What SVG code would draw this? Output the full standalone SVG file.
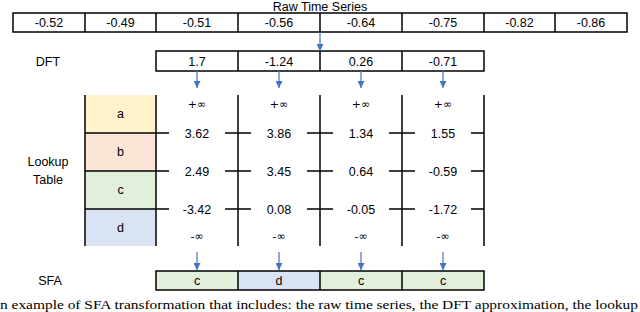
<svg xmlns="http://www.w3.org/2000/svg" width="640" height="312" viewBox="0 0 640 312">
<defs>
<marker id="ah" viewBox="0 0 10 10" refX="10" refY="5" markerWidth="7" markerHeight="7" markerUnits="userSpaceOnUse" orient="auto">
<path d="M0,0 L10,5 L0,10 z" fill="#4472C4"/>
</marker>
<style>
text{font-family:"Liberation Sans",Arial,sans-serif;font-size:12.5px;fill:#000;text-anchor:middle}
.cell{fill:#fff;stroke:#000;stroke-width:1.5}
.ln{stroke:#000;stroke-width:1.5;fill:none}
.inf{font-family:"DejaVu Sans",sans-serif;font-size:11px}
.arr{stroke:#4472C4;stroke-width:1.2;fill:none;marker-end:url(#ah)}
.cap{font-family:"Liberation Serif","Times New Roman",serif;font-size:12px;text-anchor:start}
</style>
</defs>
<g id="raw-series">
<text x="320" y="10.5">Raw Time Series</text>
<rect class="cell" x="13" y="13" width="614" height="19"/>
<path class="ln" d="M85,13V32M156,13V32M238,13V32M320,13V32M402,13V32M484,13V32M555,13V32"/>
<text x="49" y="27">-0.52</text>
<text x="120.5" y="27">-0.49</text>
<text x="197" y="27">-0.51</text>
<text x="279" y="27">-0.56</text>
<text x="361" y="27">-0.64</text>
<text x="443" y="27">-0.75</text>
<text x="519.5" y="27">-0.82</text>
<text x="591" y="27">-0.86</text>
</g>
<g id="dft">
<text x="48" y="66">DFT</text>
<rect class="cell" x="156" y="51" width="328" height="20"/>
<path class="ln" d="M238,51V71M320,51V71M402,51V71"/>
<text x="197" y="65.5">1.7</text>
<text x="279" y="65.5">-1.24</text>
<text x="361" y="65.5">0.26</text>
<text x="443" y="65.5">-0.71</text>
</g>
<g id="lookup-table">
<text x="48" y="166">Lookup</text>
<text x="48" y="184">Table</text>
<rect x="85" y="95" width="71" height="38" fill="#FFF2CC"/>
<rect x="85" y="133" width="71" height="38" fill="#FCE4D6"/>
<rect x="85" y="171" width="71" height="38" fill="#E2EFDA"/>
<rect x="85" y="209" width="71" height="37" fill="#DAE3F3"/>
<path class="ln" d="M85,95V246M156,95V246M85,133H169M85,171H169M85,209H169"/>
<text x="120.5" y="118">a</text>
<text x="120.5" y="156">b</text>
<text x="120.5" y="194">c</text>
<text x="120.5" y="232">d</text>
<path class="ln" d="M238,95V246M320,95V246M402,95V246M484,95V246"/>
<path class="ln" d="M225,133H251M225,171H251M225,209H251M307,133H333M307,171H333M307,209H333M389,133H415M389,171H415M389,209H415M471,133H484M471,171H484M471,209H484"/>
<text class="inf" x="197" y="108">+∞</text>
<text class="inf" x="279" y="108">+∞</text>
<text class="inf" x="361" y="108">+∞</text>
<text class="inf" x="443" y="108">+∞</text>
<text x="197" y="137.5">3.62</text>
<text x="279" y="137.5">3.86</text>
<text x="361" y="137.5">1.34</text>
<text x="443" y="137.5">1.55</text>
<text x="197" y="175.5">2.49</text>
<text x="279" y="175.5">3.45</text>
<text x="361" y="175.5">0.64</text>
<text x="443" y="175.5">-0.59</text>
<text x="197" y="213.5">-3.42</text>
<text x="279" y="213.5">0.08</text>
<text x="361" y="213.5">-0.05</text>
<text x="443" y="213.5">-1.72</text>
<text class="inf" x="197" y="240">-∞</text>
<text class="inf" x="279" y="240">-∞</text>
<text class="inf" x="361" y="240">-∞</text>
<text class="inf" x="443" y="240">-∞</text>
</g>
<g id="sfa">
<text x="50" y="285">SFA</text>
<rect x="156" y="271" width="82" height="19" fill="#E2EFDA"/>
<rect x="238" y="271" width="82" height="19" fill="#DAE3F3"/>
<rect x="320" y="271" width="82" height="19" fill="#E2EFDA"/>
<rect x="402" y="271" width="82" height="19" fill="#E2EFDA"/>
<rect x="156" y="271" width="328" height="19" fill="none" stroke="#000" stroke-width="1.5"/>
<path class="ln" d="M238,271V290M320,271V290M402,271V290"/>
<text x="197" y="285">c</text>
<text x="279" y="285">d</text>
<text x="361" y="285">c</text>
<text x="443" y="285">c</text>
</g>
<g id="connectors">
<path class="arr" d="M320,32V51"/>
<path class="arr" d="M197,71V88"/>
<path class="arr" d="M279,71V88"/>
<path class="arr" d="M361,71V88"/>
<path class="arr" d="M443,71V88"/>
<path class="arr" d="M197,252V270"/>
<path class="arr" d="M279,252V270"/>
<path class="arr" d="M361,252V270"/>
<path class="arr" d="M443,252V270"/>
</g>
<text class="cap" x="0" y="308.5" textLength="638" lengthAdjust="spacingAndGlyphs">n example of SFA transformation that includes: the raw time series, the DFT approximation, the lookup</text>
</svg>
